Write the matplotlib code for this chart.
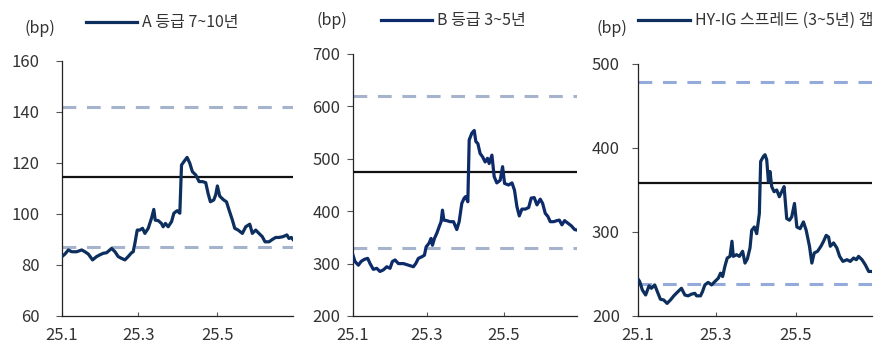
import matplotlib
matplotlib.use("Agg")
import matplotlib.pyplot as plt
from matplotlib.lines import Line2D

plt.rcParams['font.family'] = ['Noto Sans CJK KR', 'DejaVu Sans']

W, H = 891, 349

# days since 2025-01-01
a_days = [0, 2.3, 4.9, 7.5, 11.3, 15.2, 17.7, 20.3, 23.6, 26.7, 29.3, 31.9, 34.4, 38.3, 40.9,
          43.4, 46, 48.6, 51.1, 53.7, 55, 56.3, 58.1, 60.1, 62.2, 64, 66.6, 69.1, 70.9, 72,
          74.3, 76.8, 78.1, 79.9, 82, 84.6, 86.4, 88.9, 91, 92.3, 94.1, 96.6, 98.7, 100.7,
          103.3, 105.9, 108.5, 111, 112.8, 114.6, 117.2, 118.7, 120, 121.8, 124.9, 127, 129,
          131.6, 133.4, 136, 139.3, 141.9, 145, 147, 149.6, 152.1, 154.7, 156.8, 159.9, 162.4,
          165, 167.6, 170.6, 173.7, 175.3, 177.1, 178.4]
a_vals = [83.3, 84.3, 85.9, 85.2, 85.2, 85.9, 85.2, 84.3, 82, 83.3, 84, 84.6, 84.8, 86.5, 85.2,
          83.3, 82.6, 82, 83.3, 84.8, 85.2, 88.5, 93.7, 93.7, 94.4, 92.4, 94.4, 98.3, 101.8, 97.6,
          97.4, 96.3, 95, 96.3, 95, 97, 100.3, 101.3, 100.3, 119.2, 120.5, 122.2, 119.9, 116.6,
          115.3, 112.7, 112.7, 112.3, 108.1, 104.8, 105.5, 107.5, 111, 107, 105.5, 104.8, 101.6,
          97.6, 94.4, 93.7, 92.4, 95, 96, 92.4, 93.7, 92.4, 91.1, 89.1, 89.1, 90,
          90.8, 90.8, 91.1, 91.8, 90.4, 90.8, 90]

b_days = [0, 1.6, 4.3, 6.4, 9, 11.7, 13.6, 16.2, 18.9, 21.5, 24.2, 26.9, 29.5, 31.4, 33.5, 36.2,
          40.2, 44.2, 48.1, 50, 52.1, 54.8, 56.9, 58.3, 60.6, 62.2, 63.3, 64.9, 66.8, 68.6, 70.2,
          71.3, 72.4, 74.7, 77.4, 80.1, 82.7, 84.6, 86.7, 88.6, 89.9, 91.5, 92.6, 94.7, 96.6,
          97.9, 99.5, 101.3, 103.2, 105.3, 107.2, 108.5, 110.7, 112.5, 114.6, 117.3, 119.2,
          120.8, 124, 126.7, 128.7, 130.6, 132.5, 134.6, 137.3, 140, 142, 144.4, 146.6, 149.2,
          151.1, 153.2, 155.3, 157.2, 159.9, 162.5, 164.4, 166.5, 168.6, 171.3, 174, 176.6, 178.5]
b_vals = [316, 304, 297, 304, 308, 310, 300, 289, 291, 285, 288, 294, 291, 304, 307, 300,
          300, 297, 294, 300, 310, 313, 316, 332, 339, 348, 335, 348, 358, 370, 380,
          402, 383, 382, 380, 380, 365, 380, 415, 425, 428, 418, 536, 549, 554,
          533, 529, 510, 504, 494, 501, 491, 507, 466, 454, 459, 485,
          453, 450, 454, 440, 409, 391, 404, 404, 407, 425, 426, 412, 423,
          415, 396, 390, 380, 380, 382, 383, 374, 382, 377, 372, 365, 364]

g_days = [0, 1.3, 3.3, 5.8, 8.4, 10.2, 12.7, 15.2, 17, 19.6, 22.1, 24.6, 27.2, 29.7, 33, 35.6,
          38.1, 40.6, 43.2, 44.5, 47.5, 49, 50.8, 53.3, 55.9, 58.4, 61, 62.7, 64.3, 66, 67.8,
          69.9, 71.4, 72.4, 74.9, 77, 79.5, 81.3, 83.1, 85.1, 86.4, 88.4, 90.2, 92.2, 93.2,
          95.3, 96.5, 97.8, 99.1, 100.3, 101.6, 103.4, 105.4, 107.4, 109.2, 111, 113, 115.1,
          116.8, 118.9, 120.7, 123.2, 125.7, 127.8, 130.3, 132.1, 133.9, 136.4, 139, 141, 143,
          144.8, 146.1, 148.6, 151.1, 153.2, 155.7, 158.8, 161.3, 163.8, 165.9, 167.6, 170.2,
          172.7, 175.3, 177.8]
g_vals = [244, 241, 231, 225, 236, 233, 237, 227, 220, 219, 215, 219, 224, 228, 233, 225,
          224, 226, 227, 224, 224, 229, 237, 240, 237, 241, 245, 251, 247, 259, 269,
          271, 289, 271, 273, 271, 277, 263, 268, 281, 302, 306, 298, 322, 384,
          390, 392, 386, 360, 372, 354, 348, 350, 342, 348, 354, 316, 314,
          318, 334, 306, 304, 312, 302, 283, 263, 275, 277, 283, 289, 296,
          294, 283, 287, 281, 271, 265, 267, 265, 269, 267, 271, 267,
          261, 253, 253]

# mean and +/- 1 std lines
a_mean, a_up, a_dn = 114.5, 142.1, 86.9
b_mean, b_up, b_dn = 475.5, 620.5, 330.5
g_mean, g_up, g_dn = 358.3, 479.0, 237.6

tick_days = [0, 59, 120]
tick_labels = ['25.1', '25.3', '25.5']

panels = [
    dict(days=a_days, vals=a_vals, mean=a_mean, up=a_up, dn=a_dn, ylim=(60, 160), yticks=range(60, 161, 20),
         label='A 등급 7~10년', box=(62, 61, 293, 316), line='#0c2f5e', dash='#a5b3cd', ypad=12,
         bp=(24, 28), leg=(86, 137, 22)),
    dict(days=b_days, vals=b_vals, mean=b_mean, up=b_up, dn=b_dn, ylim=(200, 700), yticks=range(200, 701, 100),
         label='B 등급 3~5년', box=(353, 54, 577, 316), line='#0d2a6a', dash='#a5b3cd', ypad=5,
         bp=(317, 20), leg=(381, 432, 20)),
    dict(days=g_days, vals=g_vals, mean=g_mean, up=g_up, dn=g_dn, ylim=(200, 500), yticks=range(200, 501, 100),
         label='HY-IG 스프레드 (3~5년) 갭', box=(638, 64, 872, 316), line='#0c2f5e', dash='#93aadb', ypad=9,
         bp=(596, 28), leg=(638, 690, 20)),
]

fig = plt.figure(figsize=(W / 100, H / 100), dpi=100)

for p in panels:
    x0, y0, x1, y1 = p['box']
    ax = fig.add_axes([x0 / W, 1 - y1 / H, (x1 - x0) / W, (y1 - y0) / H])
    ax.plot(p['days'], p['vals'], color=p['line'], lw=2.3, zorder=4, solid_joinstyle='round')
    ax.axhline(p['mean'], color='#111111', lw=1.6, zorder=3)
    for v in (p['up'], p['dn']):
        ax.axhline(v, color=p['dash'], lw=2.2, dashes=(4.5, 3.5), zorder=2)
    ax.set_xlim(p['days'][0], p['days'][-1])
    ax.set_ylim(*p['ylim'])
    ax.set_yticks(list(p['yticks']))
    ax.set_xticks(tick_days)
    ax.set_xticklabels(tick_labels)
    for s in ('top', 'right'):
        ax.spines[s].set_visible(False)
    for s in ('left', 'bottom'):
        ax.spines[s].set_color('#222222')
        ax.spines[s].set_linewidth(0.9)
    ax.tick_params(axis='y', direction='out', length=4, width=0.8, color='#555555',
                   labelsize=12, labelcolor='#333333', pad=p['ypad'])
    ax.tick_params(axis='x', direction='in', length=3, width=0.8, color='#555555',
                   labelsize=12, labelcolor='#333333', pad=8)
    ax.patch.set_alpha(0)

    fig.text(p['bp'][0] / W, 1 - p['bp'][1] / H, '(bp)', fontsize=11.5, color='#333333',
             ha='left', va='center')
    lx0, lx1, ly = p['leg']
    fig.add_artist(Line2D([lx0 / W, lx1 / W], [1 - ly / H, 1 - ly / H], color=p['line'], lw=2.3))
    fig.text((lx1 + 5) / W, 1 - ly / H, p['label'], fontsize=11.5, color='#333333',
             ha='left', va='center')

fig.savefig('out.png', dpi=100)
